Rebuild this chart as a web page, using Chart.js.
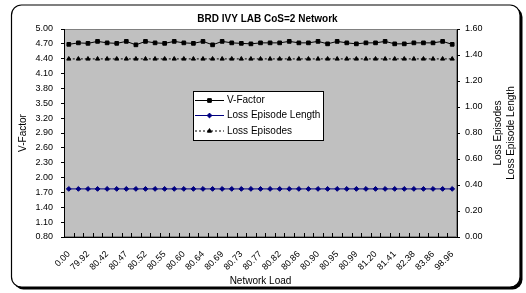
<!DOCTYPE html>
<html><head><meta charset="utf-8">
<script src="https://cdn.jsdelivr.net/npm/chart.js@4.4.0/dist/chart.umd.min.js"></script>
<style>html,body{margin:0;padding:0;background:#fff;}#wrap{width:526px;height:293px;position:relative;}canvas{display:block;}</style>
</head><body><div id="wrap"><canvas id="c" width="526" height="293"></canvas></div>
<script>
const chartTitle = 'BRD IVY LAB CoS=2 Network';
const networkLoad = ['0.00','79.50','79.92','80.20','80.42','80.45','80.47','80.50','80.52','80.54','80.55','80.58','80.60','80.62','80.64','80.66','80.69','80.71','80.73','80.75','80.77','80.80','80.82','80.84','80.86','80.88','80.90','80.92','80.95','80.97','80.99','81.10','81.20','81.30','81.41','81.90','82.38','83.10','83.86','90.00','98.96'];
const vFactor = [4.69,4.72,4.71,4.75,4.72,4.71,4.75,4.68,4.75,4.72,4.71,4.75,4.72,4.71,4.75,4.68,4.75,4.72,4.71,4.70,4.72,4.72,4.72,4.75,4.72,4.72,4.75,4.70,4.75,4.72,4.70,4.72,4.72,4.75,4.70,4.70,4.72,4.72,4.72,4.75,4.69];
const lossEpisodeLength = [0.37,0.37,0.37,0.37,0.37,0.37,0.37,0.37,0.37,0.37,0.37,0.37,0.37,0.37,0.37,0.37,0.37,0.37,0.37,0.37,0.37,0.37,0.37,0.37,0.37,0.37,0.37,0.37,0.37,0.37,0.37,0.37,0.37,0.37,0.37,0.37,0.37,0.37,0.37,0.37,0.37];
const lossEpisodes = [1.37,1.37,1.37,1.37,1.37,1.37,1.37,1.37,1.37,1.37,1.37,1.37,1.37,1.37,1.37,1.37,1.37,1.37,1.37,1.37,1.37,1.37,1.37,1.37,1.37,1.37,1.37,1.37,1.37,1.37,1.37,1.37,1.37,1.37,1.37,1.37,1.37,1.37,1.37,1.37,1.37];
const leftAxis = {min: 0.8, max: 5.0, step: 0.3, title: 'V-Factor'};
const rightAxis = {min: 0, max: 1.6, step: 0.2, titles: ['Loss Episodes', 'Loss Episode Length']};
const xTitle = 'Network Load';

const FONT = 'Arial, "Liberation Sans", sans-serif';

const decor = {
  id: 'decor',
  beforeDraw(chart) {
    const ctx = chart.ctx;
    ctx.save();
    ctx.fillStyle = '#fff';
    ctx.fillRect(0, 0, chart.width, chart.height);
    ctx.fillStyle = '#000';
    ctx.beginPath(); ctx.roundRect(13.5, 7, 509, 282.5, 10); ctx.fill();
    ctx.fillStyle = '#fff'; ctx.strokeStyle = '#000'; ctx.lineWidth = 1.2;
    ctx.beginPath(); ctx.roundRect(11.5, 5, 508.5, 282, 10); ctx.fill(); ctx.stroke();
    const a = chart.chartArea;
    ctx.fillStyle = '#c0c0c0';
    ctx.fillRect(a.left, a.top, a.right - a.left, a.bottom - a.top);
    ctx.strokeStyle = '#808080'; ctx.lineWidth = 1;
    ctx.strokeRect(a.left + 0.5, a.top + 0.5, a.right - a.left - 1, a.bottom - a.top - 1);
    ctx.restore();
  },
  afterDraw(chart) {
    const ctx = chart.ctx;
    const a = chart.chartArea;
    const xs = chart.scales.x;
    ctx.save();
    const sp = xs.getPixelForValue(1) - xs.getPixelForValue(0);
    ctx.strokeStyle = '#000'; ctx.lineWidth = 1;
    ctx.beginPath();
    for (let i = 0; i <= networkLoad.length; i++) {
      const x = Math.round(xs.getPixelForValue(i) - sp / 2) + 0.5;
      ctx.moveTo(x, a.bottom); ctx.lineTo(x, a.bottom - 4);
    }
    ctx.stroke();
    ctx.fillStyle = '#000';
    ctx.font = 'bold 10px ' + FONT;
    ctx.textAlign = 'center'; ctx.textBaseline = 'middle';
    ctx.fillText(chartTitle, 267.5, 19.5);
    ctx.font = '10px ' + FONT;
    const cy = (a.top + a.bottom) / 2;
    [[498, rightAxis.titles[0]], [511, rightAxis.titles[1]]].forEach(([x, t]) => {
      ctx.save(); ctx.translate(x, cy); ctx.rotate(-Math.PI / 2);
      ctx.fillText(t, 0, 0); ctx.restore();
    });
    const lx = 193.5, ly = 91.5, lw = 130, lh = 49;
    ctx.fillStyle = '#fff'; ctx.fillRect(lx, ly, lw, lh);
    ctx.strokeStyle = '#000'; ctx.strokeRect(lx, ly, lw, lh);
    const rows = [100.5, 115.5, 131];
    chart.data.datasets.forEach((ds, i) => {
      const y = rows[i];
      ctx.save();
      ctx.strokeStyle = ds.borderColor; ctx.lineWidth = 1;
      ctx.setLineDash(ds.borderDash || []);
      ctx.beginPath(); ctx.moveTo(195, y); ctx.lineTo(224, y); ctx.stroke();
      ctx.setLineDash([]);
      ctx.fillStyle = ds.backgroundColor; ctx.strokeStyle = ds.borderColor;
      Chart.helpers.drawPoint(ctx, {pointStyle: ds.pointStyle, radius: ds.pointRadius, rotation: 0, borderWidth: 1}, 209.5, y);
      ctx.restore();
      ctx.fillStyle = '#000'; ctx.font = '10px ' + FONT;
      ctx.textAlign = 'left'; ctx.textBaseline = 'middle';
      ctx.fillText(ds.label, 227, y);
    });
    ctx.restore();
  }
};

new Chart(document.getElementById('c'), {
  type: 'line',
  data: {
    labels: networkLoad,
    datasets: [
      {label: 'V-Factor', data: vFactor, yAxisID: 'y', borderColor: '#000', backgroundColor: '#000', borderWidth: 1, pointStyle: 'rect', pointRadius: 2.6, pointBorderWidth: 1, tension: 0},
      {label: 'Loss Episode Length', data: lossEpisodeLength, yAxisID: 'y1', borderColor: '#000080', backgroundColor: '#000080', borderWidth: 1, pointStyle: 'rectRot', pointRadius: 2.4, pointBorderWidth: 1, tension: 0},
      {label: 'Loss Episodes', data: lossEpisodes, yAxisID: 'y1', borderColor: '#000', backgroundColor: '#000', borderWidth: 1, borderDash: [2, 2], pointStyle: 'triangle', pointRadius: 2.4, pointBorderWidth: 1, tension: 0}
    ]
  },
  options: {
    responsive: false, animation: false, devicePixelRatio: 1,
    layout: {padding: {left: 12, right: 0, top: 29, bottom: 0}},
    plugins: {legend: {display: false}, tooltip: {enabled: false}, title: {display: false}},
    scales: {
      x: {
        type: 'category', offset: true,
        grid: {display: false, drawTicks: false},
        border: {display: true, color: '#000', width: 1},
        ticks: {autoSkip: false, maxRotation: 45, minRotation: 45, padding: 12, color: '#000', font: {family: FONT, size: 9},
          callback: (v, i) => (i % 2 === 0 ? networkLoad[i] : '')},
        title: {display: true, text: xTitle, color: '#000', font: {family: FONT, size: 10}, padding: {top: 0, bottom: 6}},
        afterFit: (s) => { s.height = 56; }
      },
      y: {
        position: 'left', min: leftAxis.min, max: leftAxis.max,
        grid: {drawOnChartArea: false, drawTicks: true, tickLength: 3, color: '#000'},
        border: {display: true, color: '#000', width: 1},
        ticks: {stepSize: leftAxis.step, padding: 8, color: '#000', font: {family: FONT, size: 9}, callback: (v) => Number(v).toFixed(2)},
        title: {display: true, text: leftAxis.title, color: '#000', font: {family: FONT, size: 10}, padding: {top: 5, bottom: 0}},
        afterFit: (s) => { s.width = 52; }
      },
      y1: {
        position: 'right', min: rightAxis.min, max: rightAxis.max,
        grid: {drawOnChartArea: false, drawTicks: true, tickLength: 3, color: '#000'},
        border: {display: true, color: '#000', width: 1},
        ticks: {stepSize: rightAxis.step, padding: 5, color: '#000', font: {family: FONT, size: 9}, callback: (v) => Number(v).toFixed(2)},
        afterFit: (s) => { s.width = 69; }
      }
    }
  },
  plugins: [decor]
});
</script></body></html>
